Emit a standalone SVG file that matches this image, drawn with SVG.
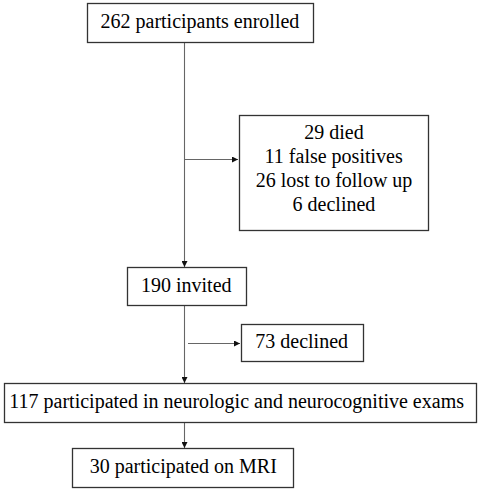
<svg xmlns="http://www.w3.org/2000/svg" width="482" height="489" viewBox="0 0 482 489">
<style>
.box{fill:#fff;stroke:#333;stroke-width:1.3}
.ln{stroke:#666;stroke-width:1.1;fill:none}
</style>
<defs>
<marker id="ah" viewBox="0 0 10 10" refX="10" refY="5" markerWidth="6" markerHeight="6" markerUnits="userSpaceOnUse" orient="auto">
<path d="M0,0 L10,5 L0,10 z" fill="#111"/>
</marker>
</defs>
<rect width="482" height="489" fill="#fff"/>
<g id="connectors">
<line class="ln" x1="184.5" y1="42" x2="184.5" y2="267" marker-end="url(#ah)"/>
<line class="ln" x1="184.5" y1="159.5" x2="238" y2="159.5" marker-end="url(#ah)"/>
<line class="ln" x1="184.5" y1="305" x2="184.5" y2="383" marker-end="url(#ah)"/>
<line class="ln" x1="188" y1="343.5" x2="240" y2="343.5" marker-end="url(#ah)"/>
<line class="ln" x1="184.5" y1="422" x2="184.5" y2="448" marker-end="url(#ah)"/>
</g>
<g id="enrolled">
<rect class="box" x="87.5" y="3.5" width="226" height="39"/>
<text x="100.5" y="27.5" font-family="Liberation Serif" font-size="20">262 participants enrolled</text>
</g>
<g id="excluded">
<rect class="box" x="239.5" y="115.5" width="189" height="115"/>
<text x="304.3" y="138.5" font-family="Liberation Serif" font-size="20">29 died</text>
<text x="264.6" y="162.5" font-family="Liberation Serif" font-size="20">11 false positives</text>
<text x="255.7" y="186.5" font-family="Liberation Serif" font-size="20">26 lost to follow up</text>
<text x="292.6" y="210.5" font-family="Liberation Serif" font-size="20">6 declined</text>
</g>
<g id="invited">
<rect class="box" x="127.5" y="267.5" width="119" height="38"/>
<text x="141" y="291.5" font-family="Liberation Serif" font-size="20">190 invited</text>
</g>
<g id="declined">
<rect class="box" x="241.5" y="324.5" width="122" height="37"/>
<text x="255.3" y="347.5" font-family="Liberation Serif" font-size="20">73 declined</text>
</g>
<g id="participated">
<rect class="box" x="4.5" y="383.5" width="472" height="39"/>
<text x="9.3" y="407.5" font-family="Liberation Serif" font-size="20">117 participated in neurologic and neurocognitive exams</text>
</g>
<g id="mri">
<rect class="box" x="72.5" y="448.5" width="221" height="39"/>
<text x="89.7" y="473" font-family="Liberation Serif" font-size="20">30 participated on MRI</text>
</g>
</svg>
